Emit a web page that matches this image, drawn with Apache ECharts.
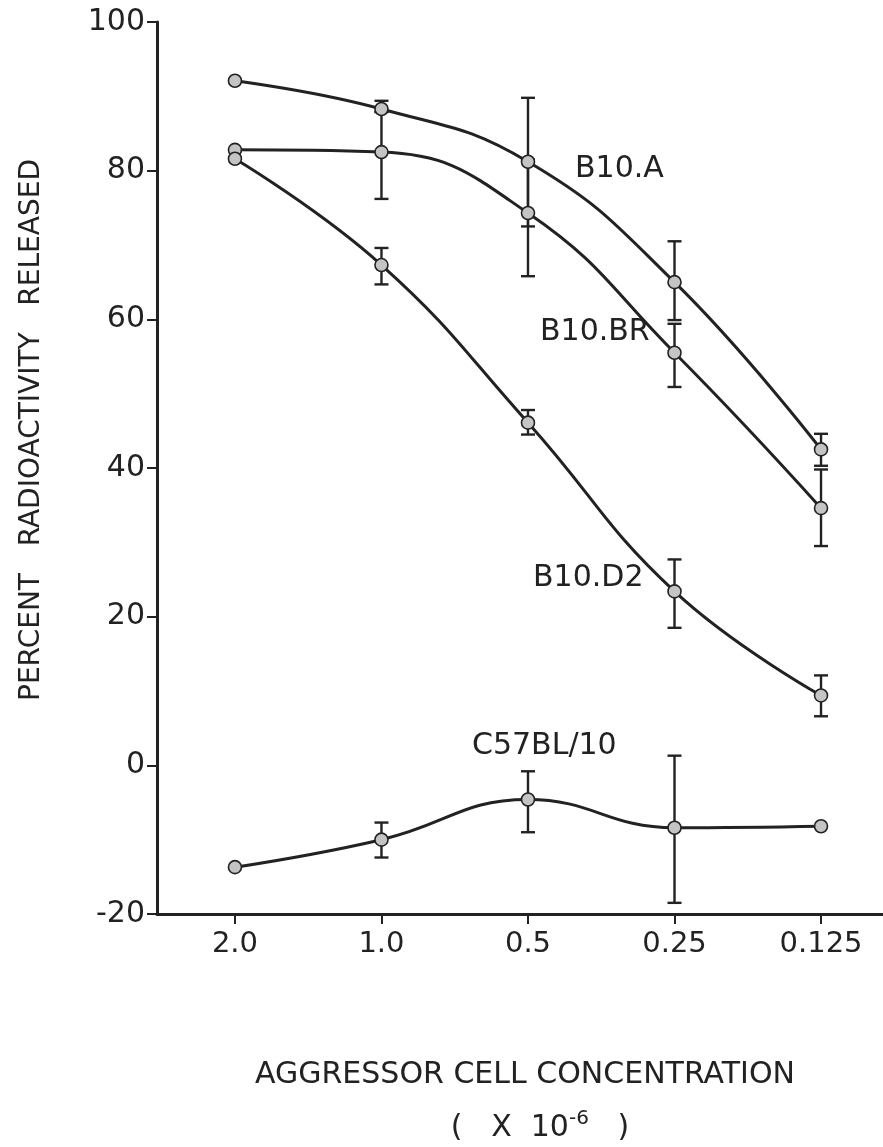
<!DOCTYPE html>
<html>
<head>
<meta charset="utf-8">
<script src="https://cdn.jsdelivr.net/npm/echarts@6/dist/echarts.min.js"></script>
<style>html,body{margin:0;padding:0;background:#fff;}#c{width:883px;height:1147px;}</style>
</head>
<body>
<div id="c"></div>
<script>
// ---- data ----
const categories = ['2.0', '1.0', '0.5', '0.25', '0.125'];
const yTicks = [-20, 0, 20, 40, 60, 80, 100];

const b10aVals = [92.1, 88.3, 81.2, 65.0, 42.5];
const b10aLo   = [null, 87.9, 72.5, 59.9, 40.3];
const b10aHi   = [null, 89.4, 89.8, 70.5, 44.6];

const b10brVals = [82.8, 82.5, 74.3, 55.5, 34.6];
const b10brLo   = [null, 76.2, 65.8, 50.9, 29.5];
const b10brHi   = [null, 87.9, 81.5, 59.4, 39.8];

const b10d2Vals = [81.6, 67.3, 46.1, 23.4, 9.4];
const b10d2Lo   = [null, 64.7, 44.5, 18.5, 6.6];
const b10d2Hi   = [null, 69.6, 47.8, 27.7, 12.1];

const c57Vals = [-13.7, -10.0, -4.6, -8.4, -8.2];
const c57Lo   = [null, -12.4, -9.0, -18.5, null];
const c57Hi   = [null, -7.7, -0.8, 1.3, null];

const seriesNames = ['B10.A', 'B10.BR', 'B10.D2', 'C57BL/10'];

// ---- build ----
const ink = '#222';
const FONT = 'DejaVu Sans';

function pts(vals) { return vals.map((v, i) => [i, v]); }
function errs(lo, hi) {
  const out = [];
  lo.forEach((l, i) => { if (l != null && hi[i] != null) out.push([i, l, hi[i]]); });
  return out;
}

function lineSeries(name, vals) {
  return {
    name, type: 'line', data: pts(vals), smooth: 0.45,
    symbol: 'circle', symbolSize: 13,
    lineStyle: { color: ink, width: 3 },
    itemStyle: { color: '#c4c4c4', borderColor: ink, borderWidth: 1.6 },
    z: 3, animation: false
  };
}

function errSeries(lo, hi) {
  return {
    type: 'custom', data: errs(lo, hi), z: 2, animation: false,
    renderItem: function (params, api) {
      const x = api.value(0);
      const a = api.coord([x, api.value(1)]);
      const b = api.coord([x, api.value(2)]);
      const w = 7;
      const st = { stroke: ink, lineWidth: 2.4 };
      return {
        type: 'group',
        children: [
          { type: 'line', shape: { x1: a[0], y1: a[1], x2: b[0], y2: b[1] }, style: st },
          { type: 'line', shape: { x1: a[0] - w, y1: a[1], x2: a[0] + w, y2: a[1] }, style: st },
          { type: 'line', shape: { x1: b[0] - w, y1: b[1], x2: b[0] + w, y2: b[1] }, style: st }
        ]
      };
    }
  };
}

const chart = echarts.init(document.getElementById('c'));
chart.setOption({
  backgroundColor: '#fff',
  animation: false,
  grid: { left: 157, right: 0, top: 22, bottom: 233, outerBoundsMode: 'none' },
  xAxis: {
    type: 'value', min: -0.532, max: 4.423,
    axisLine: { show: true, onZero: false, lineStyle: { color: ink, width: 3 } },
    axisTick: { show: true, customValues: categories.map((c, i) => i), length: 10, lineStyle: { color: ink, width: 2 } },
    axisLabel: {
      customValues: categories.map((c, i) => i),
      formatter: v => categories[Math.round(v)],
      color: ink, fontSize: 29, fontFamily: FONT, margin: 16
    },
    splitLine: { show: false }
  },
  yAxis: {
    type: 'value', min: yTicks[0], max: yTicks[yTicks.length - 1], interval: 20,
    axisLine: { show: true, onZero: false, lineStyle: { color: ink, width: 3 } },
    axisTick: { show: true, length: 10, lineStyle: { color: ink, width: 2 } },
    axisLabel: { color: ink, fontSize: 30, fontFamily: FONT, margin: 12 },
    splitLine: { show: false }
  },
  graphic: [
    { type: 'text', x: 32, y: 430, rotation: Math.PI / 2,
      style: { text: 'PERCENT   RADIOACTIVITY   RELEASED', fill: ink, font: '28px "DejaVu Sans"', align: 'center', verticalAlign: 'middle' } },
    { type: 'text', x: 525, y: 1075,
      style: { text: 'AGGRESSOR CELL CONCENTRATION', fill: ink, font: '30px "DejaVu Sans"', align: 'center', verticalAlign: 'middle' } },
    { type: 'text', x: 540, y: 1128,
      style: { text: '(   X  10{s|-6}   )', fill: ink, font: '30px "DejaVu Sans"', align: 'center', verticalAlign: 'middle',
        rich: { s: { fontSize: 20, fontFamily: 'DejaVu Sans', fill: ink, verticalAlign: 'top', padding: [0, 0, 18, 0] } } } },
    { type: 'text', x: 575, y: 169, style: { text: seriesNames[0], fill: ink, font: '30px "DejaVu Sans"', verticalAlign: 'middle' } },
    { type: 'text', x: 540, y: 332, style: { text: seriesNames[1], fill: ink, font: '30px "DejaVu Sans"', verticalAlign: 'middle' } },
    { type: 'text', x: 533, y: 578, style: { text: seriesNames[2], fill: ink, font: '30px "DejaVu Sans"', verticalAlign: 'middle' } },
    { type: 'text', x: 472, y: 746, style: { text: seriesNames[3], fill: ink, font: '30px "DejaVu Sans"', verticalAlign: 'middle' } }
  ],
  series: [
    errSeries(b10aLo, b10aHi),
    errSeries(b10brLo, b10brHi),
    errSeries(b10d2Lo, b10d2Hi),
    errSeries(c57Lo, c57Hi),
    lineSeries(seriesNames[0], b10aVals),
    lineSeries(seriesNames[1], b10brVals),
    lineSeries(seriesNames[2], b10d2Vals),
    lineSeries(seriesNames[3], c57Vals)
  ]
});
</script>
</body>
</html>
